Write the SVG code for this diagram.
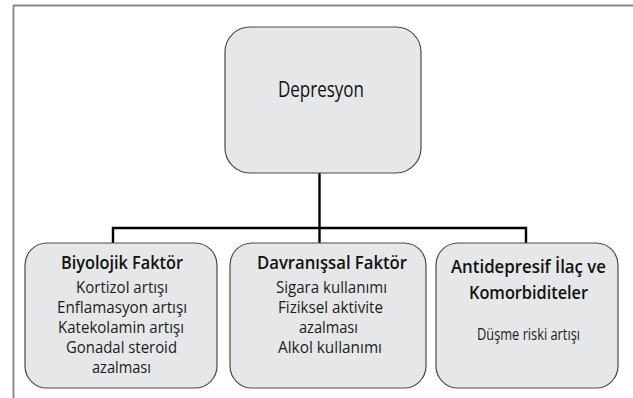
<svg xmlns="http://www.w3.org/2000/svg" width="633" height="398" viewBox="0 0 633 398">
<style>
.box{fill:#e6e7e8;stroke:#4a4a4a;stroke-width:1.2}
.t{font-family:"Open Sans","Noto Sans","Liberation Sans",sans-serif;fill:#111;text-anchor:middle}
.h{font-size:18.5px;font-weight:600}
.b{font-size:16px;font-weight:400;fill:#1c1c1c}
.d{font-size:21px;font-weight:500}
.c{fill:none;stroke:#000;stroke-width:2.4}
</style>
<rect width="633" height="398" fill="#fff"/>
<path d="M13.5,398 V5.5 H633" fill="none" stroke="#858585" stroke-width="1.8"/>
<g id="connectors">
<path class="c" d="M319.5,173 V243"/>
<path class="c" d="M113,243 V228 H526 V243"/>
</g>
<g id="depresyon">
<rect class="box" x="225" y="27" width="196" height="146" rx="25"/>
<text class="t d" x="321" y="97" textLength="86" lengthAdjust="spacingAndGlyphs">Depresyon</text>
</g>
<g id="biyolojik">
<rect class="box" x="25" y="243" width="192" height="145" rx="22"/>
<text class="t h" x="122" y="269" textLength="122" lengthAdjust="spacingAndGlyphs">Biyolojik Faktör</text>
<text class="t b" x="122" y="293" textLength="92" lengthAdjust="spacingAndGlyphs">Kortizol artışı</text>
<text class="t b" x="122" y="313" textLength="130" lengthAdjust="spacingAndGlyphs">Enflamasyon artışı</text>
<text class="t b" x="121" y="333" textLength="126" lengthAdjust="spacingAndGlyphs">Katekolamin artışı</text>
<text class="t b" x="121.5" y="353" textLength="111" lengthAdjust="spacingAndGlyphs">Gonadal steroid</text>
<text class="t b" x="121.5" y="373" textLength="59" lengthAdjust="spacingAndGlyphs">azalması</text>
</g>
<g id="davranissal">
<rect class="box" x="230" y="243" width="196" height="145" rx="22"/>
<text class="t h" x="332" y="269" textLength="150" lengthAdjust="spacingAndGlyphs">Davranışsal Faktör</text>
<text class="t b" x="331.5" y="293" textLength="111" lengthAdjust="spacingAndGlyphs">Sigara kullanımı</text>
<text class="t b" x="330.5" y="313" textLength="105" lengthAdjust="spacingAndGlyphs">Fiziksel aktivite</text>
<text class="t b" x="328.5" y="333" textLength="59" lengthAdjust="spacingAndGlyphs">azalması</text>
<text class="t b" x="330" y="353" textLength="104" lengthAdjust="spacingAndGlyphs">Alkol kullanımı</text>
</g>
<g id="antidepresif">
<rect class="box" x="436" y="243" width="182" height="145" rx="22"/>
<text class="t h" x="528.5" y="273" textLength="155" lengthAdjust="spacingAndGlyphs">Antidepresif İlaç ve</text>
<text class="t h" x="528.5" y="299" textLength="119" lengthAdjust="spacingAndGlyphs">Komorbiditeler</text>
<text class="t b" x="528.5" y="340" textLength="103" lengthAdjust="spacingAndGlyphs">Düşme riski artışı</text>
</g>
</svg>
